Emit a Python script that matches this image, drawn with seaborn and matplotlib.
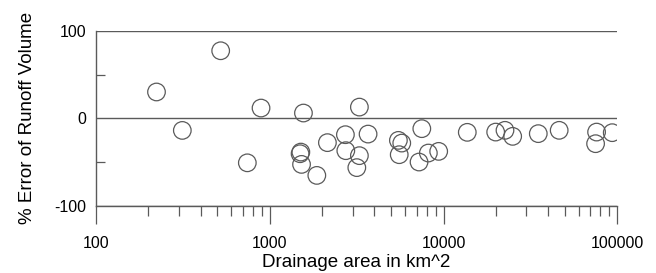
import matplotlib
matplotlib.use("Agg")
import matplotlib.pyplot as plt
import matplotlib.ticker as mticker
import seaborn as sns
import pandas as pd

area_km2 = [223, 522, 314, 891, 743, 1563, 3280, 1510, 1495, 1524, 1866, 2147,
            2725, 2740, 3680, 3280, 3170, 5500, 5750, 5560, 7500, 7230, 8180,
            9380, 13700, 19960, 22580, 25000, 35100, 46300, 76000, 93500, 75000]
pct_error = [30.2, 77.4, -13.8, 11.8, -50.9, 6.1, 12.9, -38.6, -40.5, -52.7, -65.3,
             -27.8, -18.7, -37.0, -18.0, -42.7, -56.4, -25.2, -28.3, -41.6, -11.8,
             -50.0, -39.7, -37.8, -16.0, -15.7, -13.7, -20.6, -17.5, -13.7, -15.7,
             -16.4, -29.0]
x_ticks = [100, 1000, 10000, 100000]
y_ticks = [-100, 0, 100]
y_minor = [-50, 50]

df = pd.DataFrame({"area": area_km2, "err": pct_error})

sns.set_style("ticks")
plt.rcParams["font.family"] = ["Liberation Sans", "DejaVu Sans"]
plt.rcParams["axes.unicode_minus"] = False
plt.rcParams["text.color"] = "black"
plt.rcParams["axes.labelcolor"] = "black"
plt.rcParams["xtick.labelcolor"] = "black"
plt.rcParams["ytick.labelcolor"] = "black"

gray = "#5a5a5a"
fig = plt.figure(figsize=(6.56, 2.73), dpi=100)
ax = fig.add_axes([0.1463, 0.2465, 0.941 - 0.1463, 0.8864 - 0.2465])

sns.scatterplot(data=df, x="area", y="err", ax=ax, s=160,
                facecolors="none", edgecolors=gray, linewidth=0.9, zorder=3)

ax.set_xscale("log")
ax.set_xlim(100, 100000)
ax.set_ylim(-100, 100)

ax.xaxis.set_major_locator(mticker.FixedLocator(x_ticks))
ax.xaxis.set_major_formatter(mticker.FuncFormatter(lambda v, p: f"{int(round(v))}"))
ax.xaxis.set_minor_locator(mticker.LogLocator(base=10, subs=range(2, 10)))
ax.xaxis.set_minor_formatter(mticker.NullFormatter())

ax.yaxis.set_major_locator(mticker.FixedLocator(y_ticks))
ax.yaxis.set_minor_locator(mticker.FixedLocator(y_minor))

ax.tick_params(axis="x", which="major", direction="out", length=12.7, width=0.9,
               color=gray, pad=9, labelsize=11.5)
ax.tick_params(axis="x", which="minor", direction="out", length=7.2, width=0.9,
               color=gray)
ax.tick_params(axis="y", which="major", length=0, pad=7, labelsize=11.5)
ax.tick_params(axis="y", which="minor", direction="in", length=6.2, width=0.9,
               color=gray)

ax.grid(axis="y", which="major", color=gray, linewidth=1.0)
ax.grid(axis="x", visible=False)

for s in ["top", "right"]:
    ax.spines[s].set_visible(False)
for s in ["left", "bottom"]:
    ax.spines[s].set_color(gray)
    ax.spines[s].set_linewidth(1.0)

ax.set_xlabel("Drainage area in km^2", fontsize=13.5, labelpad=2)
ax.set_ylabel("% Error of Runoff Volume", fontsize=13.5, labelpad=13)

fig.savefig("out.png", dpi=100)
